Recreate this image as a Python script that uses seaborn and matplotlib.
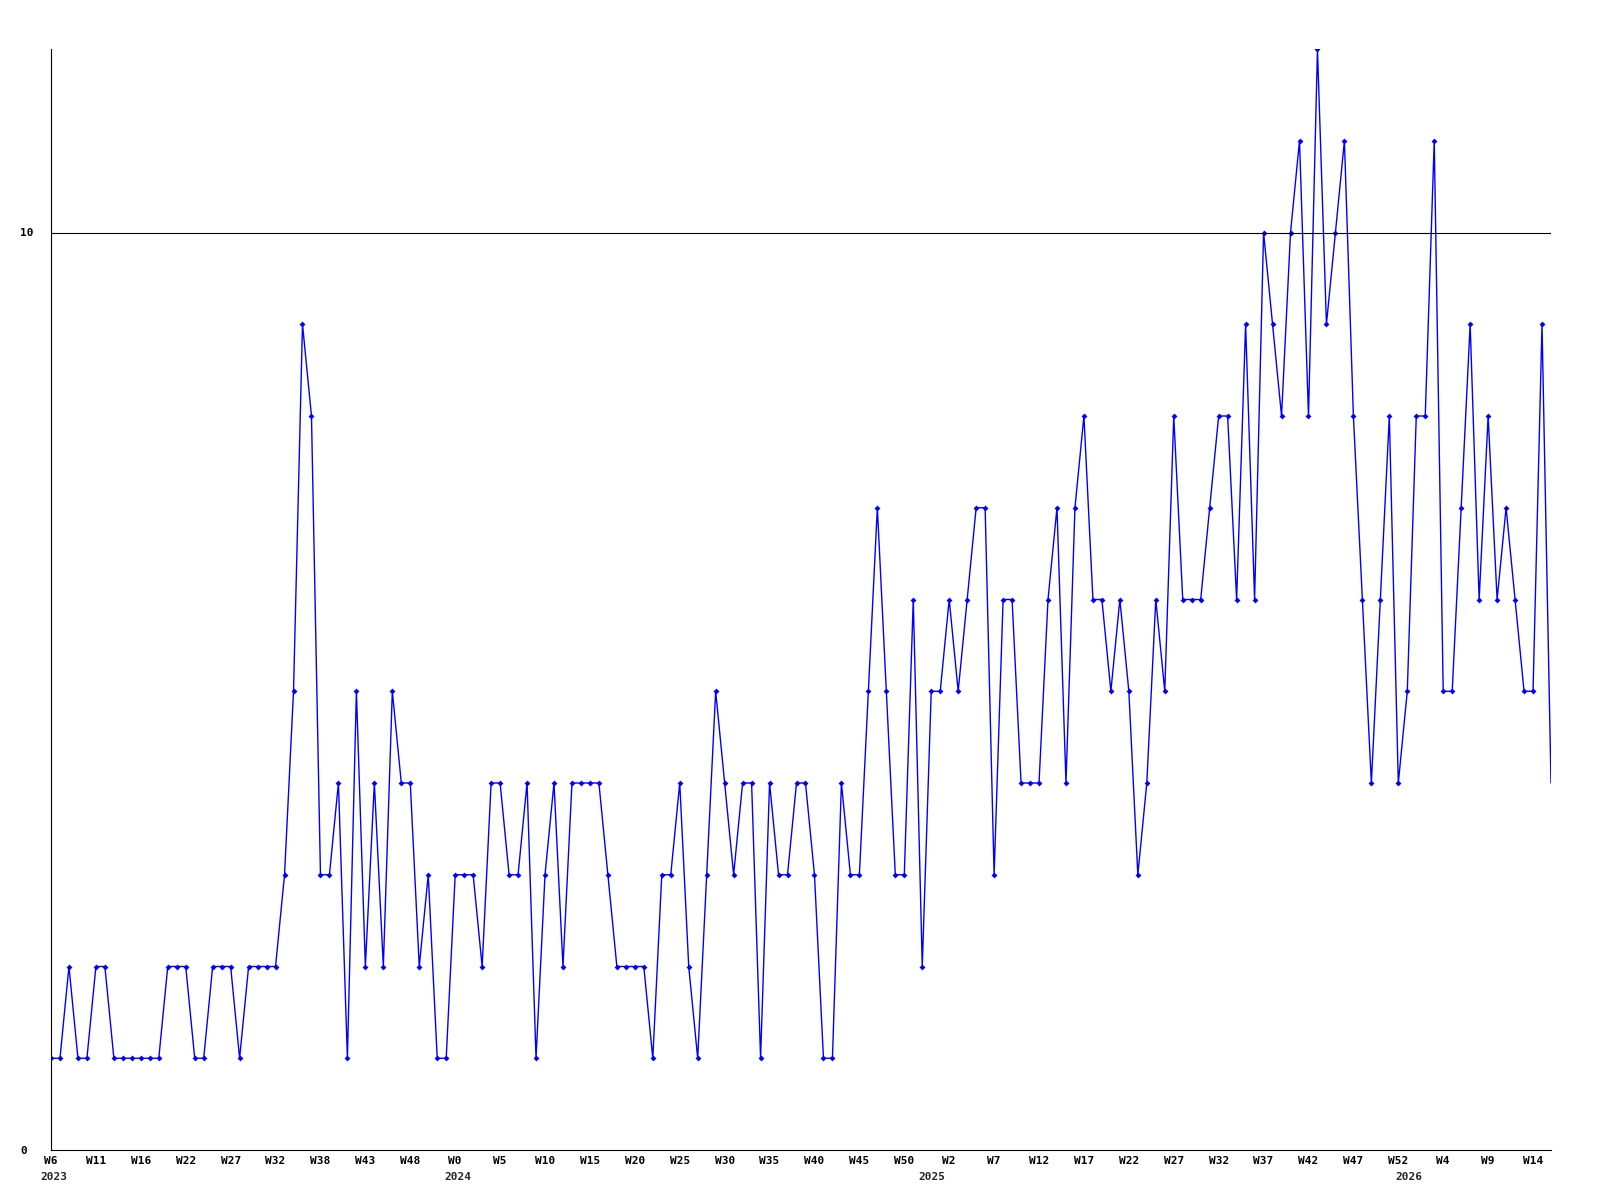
import matplotlib
matplotlib.use('Agg')

import matplotlib.pyplot as plt
import seaborn as sns
import pandas as pd

# weekly counts, starting 2023 W6
counts = [1, 1, 2, 1, 1, 2, 2, 1, 1, 1,
          1, 1, 1, 2, 2, 2, 1, 1, 2, 2,
          2, 1, 2, 2, 2, 2, 3, 5, 9, 8,
          3, 3, 4, 1, 5, 2, 4, 2, 5, 4,
          4, 2, 3, 1, 1, 3, 3, 3, 2, 4,
          4, 3, 3, 4, 1, 3, 4, 2, 4, 4,
          4, 4, 3, 2, 2, 2, 2, 1, 3, 3,
          4, 2, 1, 3, 5, 4, 3, 4, 4, 1,
          4, 3, 3, 4, 4, 3, 1, 1, 4, 3,
          3, 5, 7, 5, 3, 3, 6, 2, 5, 5,
          6, 5, 6, 7, 7, 3, 6, 6, 4, 4,
          4, 6, 7, 4, 7, 8, 6, 6, 5, 6,
          5, 3, 4, 6, 5, 8, 6, 6, 6, 7,
          8, 8, 6, 9, 6, 10, 9, 8, 10, 11,
          8, 12, 9, 10, 11, 8, 6, 4, 6, 8,
          4, 5, 8, 8, 11, 5, 5, 7, 9, 6,
          8, 6, 7, 6, 5, 5, 9, 4]

week_labels = ['W6', 'W11', 'W16', 'W22', 'W27', 'W32', 'W38', 'W43', 'W48',
               'W0', 'W5', 'W10', 'W15', 'W20', 'W25', 'W30', 'W35', 'W40', 'W45', 'W50',
               'W2', 'W7', 'W12', 'W17', 'W22', 'W27', 'W32', 'W37', 'W42', 'W47', 'W52',
               'W4', 'W9', 'W14']
label_step = 5

years = ['2023', '2024', '2025', '2026']
year_pos = [0.3, 45.3, 98.1, 151.2]

threshold = 10

df = pd.DataFrame({'week': range(len(counts)), 'count': counts})

sns.set_style('white')
plt.rcParams['font.family'] = ['DejaVu Sans Mono']

fig = plt.figure(figsize=(16, 12), dpi=100)
ax = fig.add_axes([51 / 1600, 50 / 1200, 1500 / 1600, 1101 / 1200])

# last week is still running, so no marker on it
sns.lineplot(data=df, x='week', y='count', ax=ax, color='#0000ff', linewidth=1,
             marker='D', markersize=3, markeredgewidth=0,
             markevery=list(range(len(counts) - 1)))
ax.axhline(threshold, color='black', linewidth=0.8)

ax.set_xlabel('')
ax.set_ylabel('')

ax.set_yticks([0, threshold])
ax.set_xticks(range(0, len(counts), label_step))
ax.set_xticklabels(week_labels)
ax.set_xlim(0, len(counts) - 1)
ax.set_ylim(0, 12)
ax.tick_params(length=0, labelsize=8, colors='black')
ax.tick_params(axis='x', pad=4)
ax.tick_params(axis='y', pad=22)
for lab in ax.get_yticklabels():
    lab.set_ha('left')
    lab.set_fontweight('bold')
for lab in ax.get_xticklabels():
    lab.set_fontweight('bold')

# year labels under the week labels
for yr, pos in zip(years, year_pos):
    ax.annotate(yr, xy=(pos, 0), xycoords=('data', 'axes fraction'),
                xytext=(0, -16), textcoords='offset points',
                ha='center', va='top', fontsize=8, fontweight='bold')

sns.despine(ax=ax)
for side in ['left', 'bottom']:
    ax.spines[side].set_color('black')
    ax.spines[side].set_linewidth(0.8)

plt.savefig('out.png', dpi=100)
plt.close()
